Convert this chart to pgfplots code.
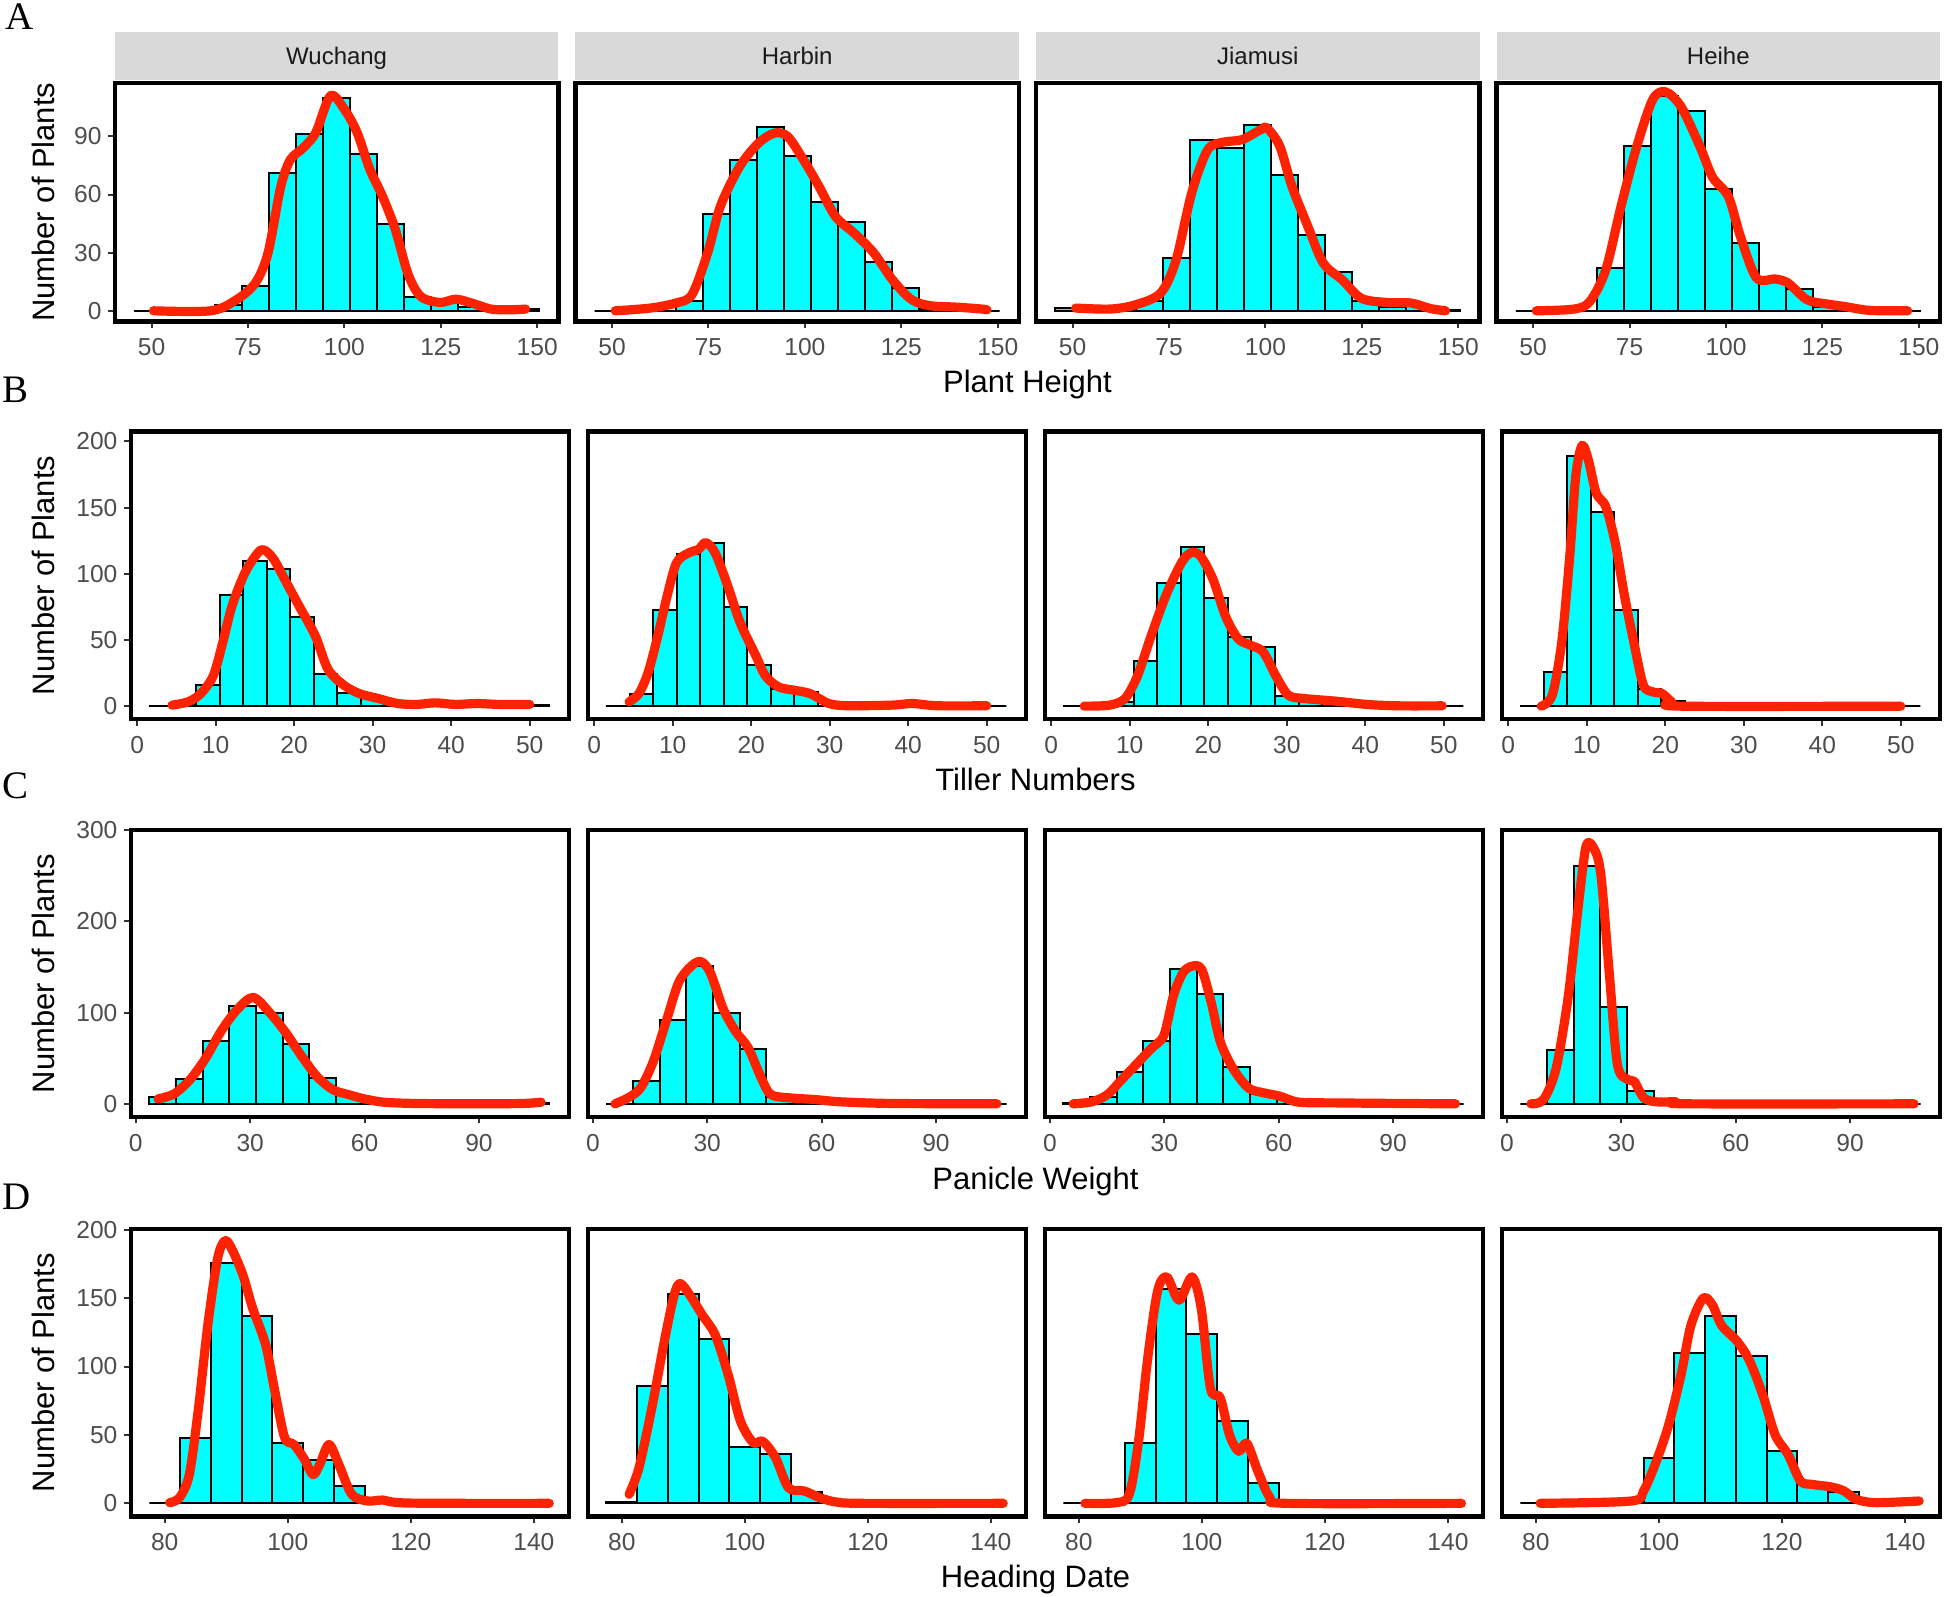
\documentclass[border=0pt]{standalone}
\usepackage{fontspec}
\setmainfont{Liberation Sans}
\newfontfamily\seriffont{Liberation Serif}
\usepackage{pgfplots}
\pgfplotsset{compat=1.18}
\usepackage{xcolor}
\definecolor{densred}{RGB}{255,34,0}
\definecolor{histcyan}{RGB}{0,255,255}
\definecolor{tickgray}{RGB}{77,77,77}
\definecolor{stripgray}{RGB}{217,217,217}
\definecolor{striptext}{RGB}{26,26,26}

\pgfplotsset{
  panel/.style={
    scale only axis, axis on top, anchor=south west,
    axis line style={line width=2.2pt},
    tick align=outside, xtick pos=left, ytick pos=left,
    major tick length=3.2pt,
    tick style={line width=1pt, draw=black!80},
    tick label style={font=\fontsize{12.3}{14}\selectfont, text=tickgray},
    xticklabel style={yshift=-1.8pt},
    /pgf/number format/assume math mode=true,
  },
  rowA/.style={panel, width=222pt, height=119.5pt, xmin=40.5, xmax=155.5,
    ymin=-5.6, ymax=117.6, xtick={50,75,100,125,150}, ytick={0,30,60,90}},
  rowB/.style={panel, width=219.25pt, height=144pt, xmin=-0.8, xmax=55,
    ymin=-9.9, ymax=207.5, xtick={0,10,20,30,40,50}, ytick={0,50,100,150,200}},
  rowC/.style={panel, width=219.25pt, height=143.5pt, xmin=-1.3, xmax=113.6,
    ymin=-14.3, ymax=300.1, xtick={0,30,60,90}, ytick={0,100,200,300}},
  rowD/.style={panel, width=219.25pt, height=144pt, xmin=74.5, xmax=145.7,
    ymin=-9.6, ymax=200.7, xtick={80,100,120,140}, ytick={0,50,100,150,200}},
  noy/.style={ytick=\empty},
  hist/.style={ybar interval, fill=histcyan, draw=black, line width=1pt},
  dens/.style={smooth, draw=densred, line width=4.6pt, line cap=round, line join=round},
}

\begin{document}
\begin{tikzpicture}
\path (0,0) rectangle (973pt,799pt);

% ---------- row A: plant height ----------
\foreach \x/\name in {57.5/Wuchang,288/Harbin,518.5/Jiamusi,749/Heihe}{
  \fill[stripgray] (\x pt,758.8pt) rectangle ++(222pt,24.2pt);
  \node[anchor=base, inner sep=0pt, text=striptext, font=\fontsize{12}{14}\selectfont]
    at (\x pt+111pt,766.5pt) {\name};
}
\begin{axis}[rowA, at={(57.5pt,638pt)}]
\addplot[hist] coordinates {(45.5,0) (52.5,0) (59.5,0) (66.5,3) (73.5,13) (80.5,71) (87.5,91) (94.5,110) (101.5,81) (108.5,45) (115.5,7) (122.5,4) (129.5,2) (136.5,1) (143.5,1) (150.5,0)};
\addplot[dens] coordinates {(50.5,0) (65.4,0) (72.0,5.7) (76.9,14.3) (80.2,29.8) (83.5,64) (86.0,78) (89.3,84) (92.6,92) (96.4,111) (100.0,104) (103.3,92) (106.6,73) (109.9,59) (113.2,42) (116.5,19) (119.8,7.4) (124.8,4.3) (128.9,6) (133.0,4) (138.0,0.9) (142.9,0.5) (147.0,0.9)};
\end{axis}
\begin{axis}[rowA, noy, at={(288pt,638pt)}]
\addplot[hist] coordinates {(45.5,0) (52.5,0) (59.5,0) (66.5,5) (73.5,50) (80.5,78) (87.5,95) (94.5,80) (101.5,56) (108.5,46) (115.5,25) (122.5,12) (129.5,1) (136.5,1) (143.5,0) (150.5,0)};
\addplot[dens] coordinates {(50.8,0) (59.9,1.4) (66.5,4) (70.7,8.3) (74.8,30) (78.1,54) (83.1,74.5) (88.0,86.6) (92.1,91.7) (95.5,90) (99.6,78) (103.7,64) (107.9,48.7) (112.8,40) (117.8,30) (122.7,16) (127.7,5.7) (132.6,2.6) (139.3,1.9) (145.9,0.9) (147.2,0.5)};
\end{axis}
\begin{axis}[rowA, noy, at={(518.5pt,638pt)}]
\addplot[hist] coordinates {(45.5,1.5) (52.5,0) (59.5,0) (66.5,5) (73.5,27) (80.5,88) (87.5,84) (94.5,96) (101.5,70) (108.5,39) (115.5,20) (122.5,5) (129.5,2) (136.5,2.5) (143.5,0.5) (150.5,0)};
\addplot[dens] coordinates {(50.8,1.4) (59.8,0.9) (66.3,3.1) (72.8,9.1) (76.8,26) (80.9,61) (85.0,83) (89.0,87) (93.9,88.3) (98.8,93.5) (100.4,94.3) (103.7,85) (106.9,64) (111.0,43.5) (115.0,24.6) (119.9,16) (124.8,6.5) (131.3,4.3) (137.8,4) (142.7,1.2) (146.7,0)};
\end{axis}
\begin{axis}[rowA, noy, at={(749pt,638pt)}]
\addplot[hist] coordinates {(45.5,0) (52.5,0) (59.5,0) (66.5,22) (73.5,85) (80.5,111) (87.5,103) (94.5,63) (101.5,35) (108.5,15) (115.5,11) (122.5,2) (129.5,1) (136.5,0) (143.5,0) (150.5,0)};
\addplot[dens] coordinates {(50.8,0) (60.6,0.9) (64.7,4.8) (68.8,21) (72.8,54) (76.9,85) (81.0,109) (84.3,113) (88.3,105.5) (93.2,85) (96.5,69) (100.6,59) (103.8,38) (107.9,17) (112.8,16.4) (116.1,14.3) (121.0,5.7) (125.9,3.6) (130.8,2.2) (137.3,0.2) (147.1,0)};
\end{axis}

% ---------- row B: tiller numbers ----------
\begin{axis}[rowB, at={(65.5pt,439pt)}]
\addplot[hist] coordinates {(1.5,0) (4.5,1) (7.5,16) (10.5,84) (13.5,110) (16.5,104) (19.5,67) (22.5,24) (25.5,10) (28.5,6) (31.5,2) (34.5,1) (37.5,1) (40.5,1) (43.5,1) (46.5,0.5) (49.5,0.5) (52.5,0)};
\addplot[dens] coordinates {(4.45,0.75) (6.5,3.3) (8.1,9.5) (9.7,23) (10.9,48) (12.1,76) (13.75,101) (15.4,116) (16.2,118) (17.4,111) (19.0,93.5) (20.6,76) (22.7,53) (24.3,28) (26.3,16) (28.3,9.5) (30.7,5.8) (33.2,2) (35.6,1.3) (38.0,2.5) (40.5,1.3) (43.3,2) (46.1,1.3) (50.0,1.3)};
\end{axis}
\begin{axis}[rowB, noy, at={(294.25pt,439pt)}]
\addplot[hist] coordinates {(1.5,0) (4.5,9.5) (7.5,73) (10.5,115) (13.5,123) (16.5,75) (19.5,31) (22.5,13) (25.5,11) (28.5,0) (31.5,0) (34.5,0) (37.5,0) (40.5,0.5) (43.5,0) (46.5,0) (49.5,0) (52.5,0)};
\addplot[dens] coordinates {(4.45,3.3) (5.7,9.5) (6.9,26) (8.1,53) (9.3,83.5) (10.5,108.5) (12.1,116) (13.3,118.5) (14.2,123.6) (15.4,116) (17.0,91) (18.6,63) (20.6,38) (21.8,23) (23.5,14.5) (25.5,12) (27.5,9.5) (29.9,2) (32.4,0.3) (38.0,0.8) (40.5,2) (43.7,0.3) (50,0.3)};
\end{axis}
\begin{axis}[rowB, noy, at={(523pt,439pt)}]
\addplot[hist] coordinates {(1.5,0) (4.5,0) (7.5,3) (10.5,34) (13.5,93) (16.5,120) (19.5,82) (22.5,52) (25.5,45) (28.5,8) (31.5,5) (34.5,4) (37.5,2) (40.5,1) (43.5,0) (46.5,0) (49.5,0) (52.5,0)};
\addplot[dens] coordinates {(4.2,0) (7.4,0.75) (9.4,5.8) (11.0,23) (12.6,51) (14.6,83.5) (16.6,108.5) (17.8,116) (19.0,113.5) (20.6,96) (22.2,68) (23.8,51) (25.4,46) (27.0,41) (28.6,23) (30.2,8.3) (32.2,5.8) (36.2,3.8) (40.2,1.3) (44.2,0.25) (49.8,0.25)};
\end{axis}
\begin{axis}[rowB, noy, at={(751.75pt,439pt)}]
\addplot[hist] coordinates {(1.5,0) (4.5,26) (7.5,189) (10.5,147) (13.5,73) (16.5,13) (19.5,4) (22.5,0) (25.5,0) (28.5,0) (31.5,0) (34.5,0) (37.5,0) (40.5,0) (43.5,0) (46.5,0) (49.5,0) (52.5,0)};
\addplot[dens] coordinates {(4.2,0) (5.6,8.3) (6.8,48) (7.8,111) (8.6,174) (9.4,197) (10.2,186) (11.2,161) (12.4,151) (13.6,124) (14.8,83.5) (16.0,48) (17.2,16) (18.4,10.8) (19.6,9.5) (20.8,3.3) (22,0) (50,0)};
\end{axis}

% ---------- row C: panicle weight ----------
\begin{axis}[rowC, at={(65.5pt,240pt)}]
\addplot[hist] coordinates {(3.5,8) (10.5,27) (17.5,69) (24.5,107) (31.5,100) (38.5,66) (45.5,28) (52.5,10) (59.5,3) (66.5,1) (73.5,0) (80.5,0) (87.5,0) (94.5,0) (101.5,1) (108.5,0)};
\addplot[dens] coordinates {(5.8,5.4) (10,10.8) (14.2,26.4) (18.3,50) (22.5,80.6) (26.7,104) (30.8,116.7) (35,100.5) (39.2,78.8) (43.3,53.5) (47.5,30) (51.7,15.5) (55.8,10.1) (60,5.4) (65,1.8) (73.3,0.4) (90,0) (101.7,0.4) (106.3,1.8)};
\end{axis}
\begin{axis}[rowC, noy, at={(294.25pt,240pt)}]
\addplot[hist] coordinates {(3.5,0) (10.5,25) (17.5,92) (24.5,151) (31.5,100) (38.5,60) (45.5,7) (52.5,3) (59.5,2) (66.5,1) (73.5,0.5) (80.5,0) (87.5,0) (94.5,0) (101.5,0) (108.5,0)};
\addplot[dens] coordinates {(5.8,0) (9.2,6.5) (12.5,17.3) (15.8,46) (19.2,90) (22.5,133) (25.8,151) (28.3,156) (30.8,144) (34.2,104) (37.5,79) (40.8,61) (44.2,28) (46.7,10.1) (51.7,6.5) (58.3,4.7) (65,2.2) (78.3,0.4) (106,0)};
\end{axis}
\begin{axis}[rowC, noy, at={(523pt,240pt)}]
\addplot[hist] coordinates {(3.5,1) (10.5,7) (17.5,35) (24.5,69) (31.5,148) (38.5,120) (45.5,40) (52.5,11) (59.5,5) (66.5,1) (73.5,0.5) (80.5,0) (87.5,0) (94.5,0) (101.5,0) (108.5,0)};
\addplot[dens] coordinates {(6.1,0) (11.0,2.2) (15.1,10.1) (18.4,24.6) (22.5,42.6) (26.6,60.7) (29.9,75.2) (32.4,118.5) (34.9,143.8) (37.3,151) (39.8,147.5) (42.3,111.3) (44.7,68) (48.0,39) (52.1,17.3) (56.3,11.9) (60.4,8.3) (65.3,1.8) (75.2,1) (91.6,0.4) (106.4,0)};
\end{axis}
\begin{axis}[rowC, noy, at={(751.75pt,240pt)}]
\addplot[hist] coordinates {(3.5,0) (10.5,59) (17.5,261) (24.5,106) (31.5,14) (38.5,1) (45.5,0) (52.5,0) (59.5,0) (66.5,0) (73.5,0) (80.5,0) (87.5,0) (94.5,0) (101.5,0) (108.5,0)};
\addplot[dens] coordinates {(6.3,0) (9.6,4.7) (12.9,39) (16.1,118.5) (18.6,212.5) (20.8,283) (23.1,277.6) (24.7,248.6) (26.9,140.2) (29.0,42.6) (31.8,26.4) (33.4,24.6) (35.9,6.5) (39.2,2.2) (44.2,2.2) (47.4,0) (106.8,0)};
\end{axis}

% ---------- row D: heading date ----------
\begin{axis}[rowD, at={(65.5pt,40pt)}]
\addplot[hist] coordinates {(77.5,0) (82.5,48) (87.5,176) (92.5,137) (97.5,44) (102.5,32) (107.5,13) (112.5,1) (117.5,0) (122.5,0) (127.5,0) (132.5,0) (137.5,0) (142.5,0)};
\addplot[dens] coordinates {(80.8,0.5) (82.4,4.1) (84.0,21) (85.5,70) (87.0,130) (88.6,179) (89.8,192) (90.9,186) (92.7,167) (94.3,142.5) (96.4,116) (97.9,82) (99.5,48) (101.0,43) (102.6,33) (104.1,21) (105.2,28.4) (106.7,43) (108.3,28.4) (110.4,6.6) (113.0,1.7) (115.5,2.4) (119.7,0.2) (142.5,0)};
\end{axis}
\begin{axis}[rowD, noy, at={(294.25pt,40pt)}]
\addplot[hist] coordinates {(77.5,1) (82.5,86) (87.5,153) (92.5,120) (97.5,41) (102.5,36) (107.5,8) (112.5,1) (117.5,0) (122.5,0) (127.5,0) (132.5,0) (137.5,0) (142.5,0)};
\addplot[dens] coordinates {(81.2,6.6) (82.8,26) (84.9,70) (86.9,118) (88.5,152) (89.5,160.7) (91.1,152) (93.1,137.6) (95.2,123) (97.3,94) (99.3,60) (101.4,44.2) (102.9,45.4) (105.0,33.3) (107.1,11.4) (109.7,9) (112.2,4.1) (114.8,1) (119,0) (142,0)};
\end{axis}
\begin{axis}[rowD, noy, at={(523pt,40pt)}]
\addplot[hist] coordinates {(77.5,0) (82.5,0) (87.5,44) (92.5,157) (97.5,124) (102.5,60) (107.5,15) (112.5,0) (117.5,0) (122.5,0) (127.5,0) (132.5,0) (137.5,0) (142.5,0)};
\addplot[dens] coordinates {(81,0) (86.1,0.5) (88.2,6.6) (89.7,45) (91.2,106) (92.8,155) (94.3,165.5) (96.3,148.5) (98.4,165.5) (99.9,142.5) (101.4,84) (103.0,77) (104.5,50) (106.0,38) (107.3,44) (109.1,23.5) (111.1,4.1) (113.7,0) (142.2,0)};
\end{axis}
\begin{axis}[rowD, noy, at={(751.75pt,40pt)}]
\addplot[hist] coordinates {(77.5,0) (82.5,0) (87.5,0) (92.5,0) (97.5,33) (102.5,110) (107.5,137) (112.5,108) (117.5,38) (122.5,14) (127.5,8) (132.5,0.5) (137.5,0) (142.5,0)};
\addplot[dens] coordinates {(80.7,0) (95.5,1.7) (97.5,9) (99.6,31) (101.6,57.5) (103.6,94) (105.2,130) (107.2,150) (108.7,145) (110.2,130) (112.8,118) (114.8,103.6) (116.9,79) (118.9,50) (121.0,35.7) (123.0,16.3) (125.0,13.8) (128.1,11.9) (130.1,9) (132.1,2.9) (135.2,0.5) (142.3,1.7)};
\end{axis}

% ---------- titles and panel letters ----------
\foreach \y in {697.75,511,311.75,112}{
  \node[rotate=90, inner sep=0pt, font=\fontsize{15.5}{18}\selectfont] at (21.5pt,\y pt) {Number of Plants};
}
\node[anchor=base, inner sep=0pt, font=\fontsize{15.5}{18}\selectfont] at (514.25pt,602.5pt) {Plant Height};
\node[anchor=base, inner sep=0pt, font=\fontsize{15.5}{18}\selectfont] at (518.25pt,403.5pt) {Tiller Numbers};
\node[anchor=base, inner sep=0pt, font=\fontsize{15.5}{18}\selectfont] at (518.25pt,203.5pt) {Panicle Weight};
\node[anchor=base, inner sep=0pt, font=\fontsize{15.5}{18}\selectfont] at (518.25pt,4.5pt) {Heading Date};
\node[anchor=base west, inner sep=0pt, font=\seriffont\fontsize{19.5}{22}\selectfont] at (2.5pt,784pt) {A};
\node[anchor=base west, inner sep=0pt, font=\seriffont\fontsize{19.5}{22}\selectfont] at (1pt,597.5pt) {B};
\node[anchor=base west, inner sep=0pt, font=\seriffont\fontsize{19.5}{22}\selectfont] at (1pt,399.5pt) {C};
\node[anchor=base west, inner sep=0pt, font=\seriffont\fontsize{19.5}{22}\selectfont] at (1pt,193.5pt) {D};
\end{tikzpicture}
\end{document}
